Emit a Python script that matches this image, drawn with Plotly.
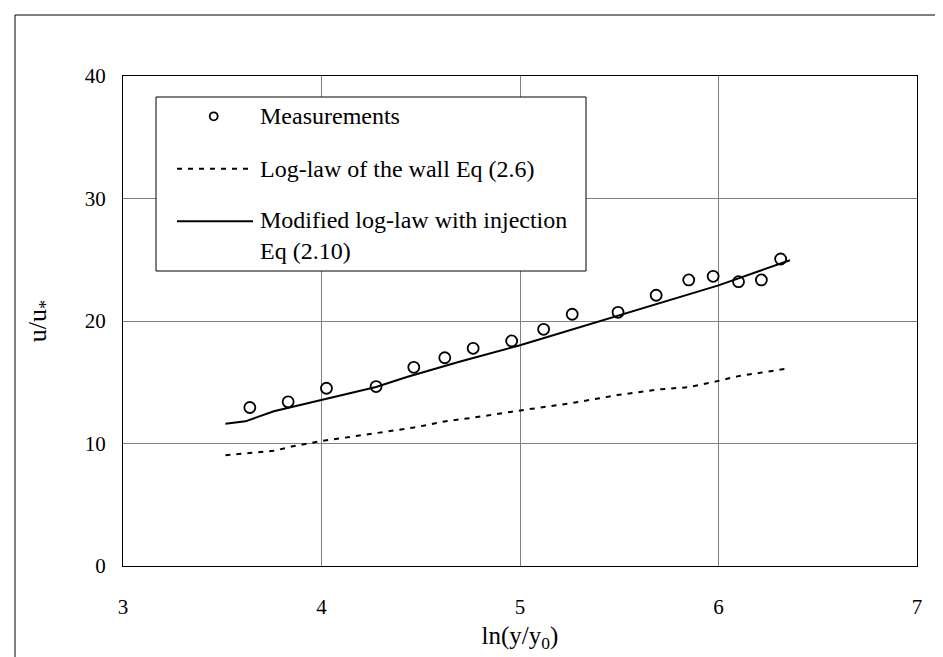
import plotly.graph_objects as go

# ---- data ----
meas_x = [3.639, 3.832, 4.025, 4.275, 4.465, 4.621, 4.764, 4.958, 5.119, 5.263,
          5.494, 5.686, 5.850, 5.973, 6.101, 6.216, 6.313]
meas_y = [12.94, 13.40, 14.51, 14.65, 16.22, 17.00, 17.77, 18.37, 19.32, 20.55,
          20.71, 22.10, 23.35, 23.65, 23.21, 23.35, 25.06]

mod_x = [3.516, 3.617, 3.76, 4.0, 4.275, 4.43, 4.69, 5.0, 5.49, 6.0, 6.36]
mod_y = [11.62, 11.81, 12.63, 13.53, 14.61, 15.43, 16.65, 18.02, 20.41, 22.91, 24.96]

wall_x = [3.516, 3.617, 3.76, 3.85, 4.0, 4.275, 4.465, 4.62, 4.76, 4.96, 5.12,
          5.26, 5.49, 5.69, 5.85, 5.97, 6.10, 6.22, 6.36]
wall_y = [9.04, 9.2, 9.4, 9.75, 10.2, 10.85, 11.3, 11.8, 12.1, 12.6, 12.95,
          13.3, 13.95, 14.4, 14.6, 15.0, 15.5, 15.8, 16.15]

x_ticks = [3, 4, 5, 6, 7]
y_ticks = [0, 10, 20, 30, 40]

labels = ["Measurements", "Log-law of the wall Eq (2.6)",
          "Modified log-law with injection<br>Eq (2.10)"]

FONT = "Liberation Serif, Times New Roman, serif"

# ---- layout geometry (pixels) ----
W, H = 943, 657
L, R, T, B = 115, 34, 68, 99
PW, PH = W - L - R, H - T - B


def px(x):
    return (x - L) / PW


def py(y):
    return (H - B - y) / PH


fig = go.Figure()
fig.add_trace(go.Scatter(x=wall_x, y=wall_y, mode="lines", name=labels[1],
                         line=dict(color="black", width=2, dash="5px,6px"),
                         showlegend=False))
fig.add_trace(go.Scatter(x=mod_x, y=mod_y, mode="lines", name=labels[2],
                         line=dict(color="black", width=2),
                         showlegend=False))
fig.add_trace(go.Scatter(x=meas_x, y=meas_y, mode="markers", name=labels[0],
                         marker=dict(symbol="circle-open", size=11,
                                     color="black", line=dict(width=1.8)),
                         showlegend=False))

shapes = []
# outer frame
shapes.append(dict(type="rect", xref="paper", yref="paper",
                   x0=px(7), x1=px(960), y0=py(7), y1=py(680),
                   line=dict(color="black", width=1), layer="below"))
# legend box
shapes.append(dict(type="rect", xref="paper", yref="paper",
                   x0=px(148), x1=px(578), y0=py(263), y1=py(89),
                   line=dict(color="black", width=1), fillcolor="white",
                   layer="above"))
# legend samples
shapes.append(dict(type="circle", xref="paper", yref="paper",
                   xsizemode="pixel", ysizemode="pixel",
                   xanchor=px(205.7), yanchor=py(108.3),
                   x0=-4, x1=4, y0=-4, y1=4,
                   line=dict(color="black", width=1.8), layer="above"))
shapes.append(dict(type="line", xref="paper", yref="paper",
                   x0=px(169), x1=px(243), y0=py(160.7), y1=py(160.7),
                   line=dict(color="black", width=2, dash="5px,6px"),
                   layer="above"))
shapes.append(dict(type="line", xref="paper", yref="paper",
                   x0=px(169), x1=px(245), y0=py(213.3), y1=py(213.3),
                   line=dict(color="black", width=2), layer="above"))

ann = []
for text, yc in zip(labels, [108.3, 161.0, 227.5]):
    ann.append(dict(xref="paper", yref="paper", x=px(250), y=py(yc),
                    xanchor="left", yanchor="middle", align="left",
                    text=text, showarrow=False,
                    font=dict(family=FONT, size=24, color="black")))

fig.update_layout(
    width=W, height=H,
    margin=dict(l=L, r=R, t=T, b=B),
    paper_bgcolor="white", plot_bgcolor="white",
    font=dict(family=FONT, color="black"),
    shapes=shapes, annotations=ann,
    showlegend=False,
)
fig.update_xaxes(range=[3, 7], tickvals=x_ticks, ticks="", showgrid=True,
                 gridcolor="#808080", gridwidth=1, zeroline=False,
                 showline=True, linecolor="black", linewidth=1, mirror=True,
                 tickfont=dict(family=FONT, size=21, color="black"),
                 ticklabelstandoff=22,
                 title=dict(text="ln(y/y<sub>0</sub>)", standoff=8,
                            font=dict(family=FONT, size=25, color="black")))
fig.update_yaxes(range=[0, 40], tickvals=y_ticks, ticks="", showgrid=True,
                 gridcolor="#808080", gridwidth=1, zeroline=False,
                 showline=True, linecolor="black", linewidth=1, mirror=True,
                 tickfont=dict(family=FONT, size=21, color="black"),
                 ticklabelstandoff=12,
                 title=dict(text="u/u<sub>*</sub>", standoff=30,
                            font=dict(family=FONT, size=26, color="black")))

fig.write_html("out.html")
